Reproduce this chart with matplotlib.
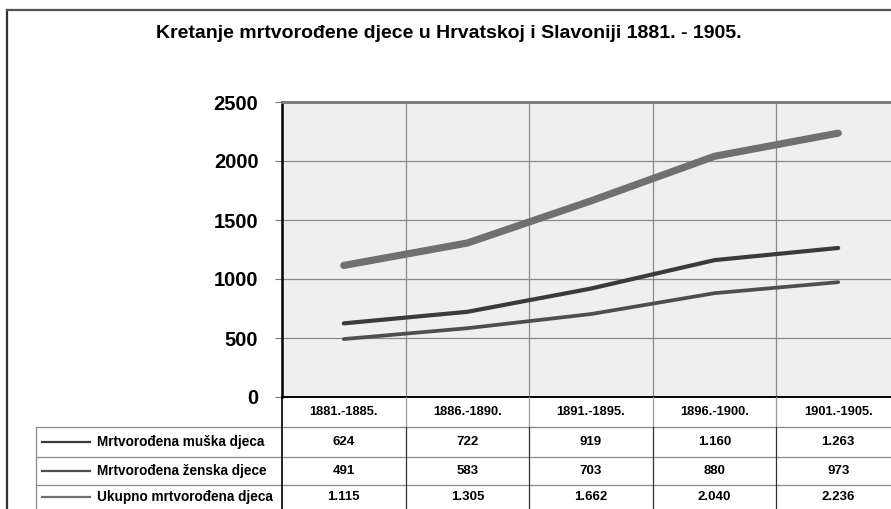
import matplotlib
matplotlib.use("Agg")
from matplotlib import pyplot as plt
from matplotlib.lines import Line2D

periods = ["1881.-1885.", "1886.-1890.", "1891.-1895.", "1896.-1900.", "1901.-1905."]
muska = [624, 722, 919, 1160, 1263]
zenska = [491, 583, 703, 880, 973]
ukupno = [1115, 1305, 1662, 2040, 2236]
names = ["Mrtvorođena muška djeca", "Mrtvorođena ženska djece", "Ukupno mrtvorođena djeca"]
colors = ["#3a3a3a", "#4e4e4e", "#707070"]
widths = [3.0, 2.7, 5.2]
yticks = [0, 500, 1000, 1500, 2000, 2500]

plt.rcParams["font.family"] = ["Liberation Sans", "DejaVu Sans"]
plt.rcParams["font.weight"] = "bold"

W, H = 891, 509
fig = plt.figure(figsize=(W / 100, H / 100), dpi=100)

def fx(px):
    return px / W

def fy(py):
    return 1 - py / H

# outer frame
fig.add_artist(Line2D([fx(7), fx(7)], [fy(10), 0], color="#333333", lw=1.6, transform=fig.transFigure))
fig.add_artist(Line2D([fx(7), 1], [fy(10), fy(10)], color="#555555", lw=1.6, transform=fig.transFigure))

fig.text(fx(449), fy(33), "Kretanje mrtvorođene djece u Hrvatskoj i Slavoniji 1881. - 1905.",
         ha="center", va="center", fontsize=14, fontweight="bold")

ax = fig.add_axes([fx(282), fy(397), fx(900 - 282), (397 - 102) / H])
ax.set_facecolor("#efefef")
x = list(range(len(periods)))
series = [muska, zenska, ukupno]
for vals, c, lw in zip(series, colors, widths):
    ax.plot(x, vals, color=c, lw=lw, solid_capstyle="round", solid_joinstyle="round", zorder=3)
ax.set_xlim(-0.5, 4.5)
ax.set_ylim(0, 2500)
ax.set_yticks(yticks)
ax.set_yticklabels([str(v) for v in yticks], fontsize=14.5, fontweight="bold")
ax.set_xticks([i + 0.5 for i in range(4)])
ax.set_xticklabels([])
ax.tick_params(axis="x", length=0)
ax.tick_params(axis="y", length=5, color="#777777", pad=12)
ax.grid(True, color="#8a8a8a", lw=0.9)
ax.spines["left"].set_color("black")
ax.spines["left"].set_linewidth(1.8)
ax.spines["bottom"].set_color("black")
ax.spines["bottom"].set_linewidth(1.4)
ax.spines["top"].set_color("#777777")
ax.spines["top"].set_linewidth(2.0)
ax.spines["right"].set_visible(False)

# data table under the plot
tb = fig.add_axes([fx(282), 0, fx(900 - 282), 112 / H])
tb.set_xlim(-0.5, 4.5)
tb.set_ylim(112, 0)
tb.axis("off")
left = -0.5 - (282 - 36) / (618 / 5)
rows = [30, 60, 88]
for yy in rows:
    tb.plot([left, 4.5], [yy, yy], color="#8a8a8a", lw=0.9, clip_on=False)
tb.plot([left, left], [30, 112], color="#8a8a8a", lw=0.9, clip_on=False)
tb.plot([-0.5, -0.5], [0, 112], color="black", lw=1.2, clip_on=False)
for i in range(4):
    b = i + 0.5
    tb.plot([b, b], [0, 30], color="#9a9a9a", lw=0.9, clip_on=False)
    tb.plot([b, b], [30, 112], color="#333333", lw=0.9, clip_on=False)

for i, p in enumerate(periods):
    tb.text(i, 15, p, ha="center", va="center", fontsize=9.3, fontweight="bold")

def fmt(v):
    return "{:,}".format(v).replace(",", ".")

centers = [45, 74, 100]
sample_a = -0.5 - (282 - 42) / (618 / 5)
sample_b = -0.5 - (282 - 90) / (618 / 5)
text_x = -0.5 - (282 - 97) / (618 / 5)
for name, vals, c, yc in zip(names, series, colors, centers):
    tb.plot([sample_a, sample_b], [yc, yc], color=c, lw=1.6, clip_on=False)
    tb.text(text_x, yc, name, ha="left", va="center", fontsize=9.8, fontweight="bold", clip_on=False)
    for i, v in enumerate(vals):
        tb.text(i, yc, fmt(v), ha="center", va="center", fontsize=9.5, fontweight="bold")

fig.savefig("out.png", dpi=100)
